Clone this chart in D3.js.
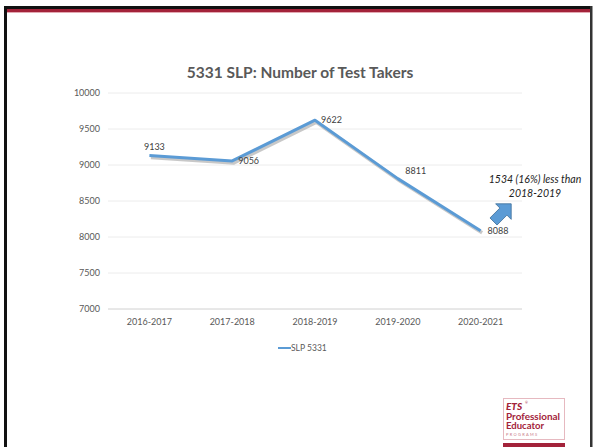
<!DOCTYPE html>
<html><head><meta charset="utf-8">
<script src="https://cdn.jsdelivr.net/npm/d3@7"></script>
<style>html,body{margin:0;padding:0;background:#fff;}svg{display:block;}</style>
</head><body>
<svg id="c" width="594" height="447"></svg>
<script>
const categories = ["2016-2017","2017-2018","2018-2019","2019-2020","2020-2021"];
const values = [9133, 9056, 9622, 8811, 8088];
const yTicks = [7000, 7500, 8000, 8500, 9000, 9500, 10000];
const seriesName = "SLP 5331";
const title = "5331 SLP: Number of Test Takers";
const note = ["1534 (16%) less than", "2018-2019"];
// label placement per point: [dx, dy, anchor]
const labelPos = [[5,-9,"middle"],[6,0,"start"],[6,0,"start"],[18,-8,"middle"],[7,0,"start"]];

const svg = d3.select("#c");
const font = "Lato, 'Open Sans', sans-serif";
const grey = "#595959";

// slide frame
svg.append("rect").attr("x",4).attr("y",6).attr("width",588).attr("height",3).attr("fill","#111");
svg.append("rect").attr("x",4).attr("y",9).attr("width",588).attr("height",3).attr("fill","#a3233a");
svg.append("rect").attr("x",4).attr("y",12).attr("width",588).attr("height",1).attr("fill","#e3a9b2");
svg.append("rect").attr("x",4).attr("y",6).attr("width",3).attr("height",441).attr("fill","#111");
svg.append("rect").attr("x",590).attr("y",6).attr("width",2.5).attr("height",441).attr("fill","#333");

const x = d3.scaleBand().domain(categories).range([108, 522]);
const y = d3.scaleLinear().domain([7000, 10000]).range([309, 93]);

// gridlines
svg.append("g").selectAll("line").data(yTicks).join("line")
  .attr("x1",108).attr("x2",522)
  .attr("y1",d=>y(d)).attr("y2",d=>y(d))
  .attr("stroke",d=>d===7000?"#d0d0d0":"#ececec").attr("stroke-width",1);

// y axis labels
const yAxis = d3.axisLeft(y).tickValues(yTicks).tickSize(0).tickPadding(8).tickFormat(d3.format("d"));
const ga = svg.append("g").attr("transform","translate(108,0)").call(yAxis);
ga.select(".domain").remove();
ga.selectAll("text").attr("font-family",font).attr("font-size",9).attr("fill",grey);

// x axis labels
const xAxis = d3.axisBottom(x).tickSize(0).tickPadding(10);
const gx = svg.append("g").attr("transform","translate(0,309)").call(xAxis);
gx.select(".domain").remove();
gx.selectAll("text").attr("font-family",font).attr("font-size",9).attr("fill",grey);

// title
svg.append("text").attr("x",300).attr("y",78).attr("text-anchor","middle")
  .attr("font-family",font).attr("font-weight","bold").attr("font-size",15.5).attr("fill",grey).text(title);

// line with shadow
const line = d3.line().x((d,i)=>x(categories[i])+x.bandwidth()/2).y(d=>y(d));
svg.append("path").datum(values).attr("d",line).attr("transform","translate(1.5,2)")
  .attr("fill","none").attr("stroke","#9a9a9a").attr("stroke-opacity",0.55).attr("stroke-width",3.5);
svg.append("path").datum(values).attr("d",line)
  .attr("fill","none").attr("stroke","#5b9bd5").attr("stroke-width",3).attr("stroke-linejoin","round");

// data labels
svg.append("g").selectAll("text").data(values).join("text")
  .attr("x",(d,i)=>x(categories[i])+x.bandwidth()/2+labelPos[i][0])
  .attr("y",(d,i)=>y(d)+labelPos[i][1])
  .attr("dy","0.35em")
  .attr("text-anchor",(d,i)=>labelPos[i][2])
  .attr("font-family",font).attr("font-size",9).attr("fill","#404040")
  .text(d=>d);

// legend
svg.append("line").attr("x1",278).attr("x2",291).attr("y1",348).attr("y2",348)
  .attr("stroke","#5b9bd5").attr("stroke-width",2);
svg.append("text").attr("x",291).attr("y",348).attr("dy","0.35em")
  .attr("font-family",font).attr("font-size",8.5).attr("fill",grey).text(seriesName);

// annotation
svg.append("g").selectAll("text").data(note).join("text")
  .attr("x",535).attr("y",(d,i)=>183+i*13.5).attr("text-anchor","middle")
  .attr("font-family",font).attr("font-style","italic").attr("font-size",10.5).attr("fill","#222").text(d=>d);

// block arrow pointing up-right
const arr = svg.append("g").attr("transform","translate(502,213) rotate(-45)");
arr.append("path")
  .attr("d","M-12,-5 L2,-5 L2,-11 L13,0 L2,11 L2,5 L-12,5 Z")
  .attr("fill","#5b9bd5").attr("stroke","#41719c").attr("stroke-width",0.8);

// logo
const lg = svg.append("g");
lg.append("rect").attr("x",503.5).attr("y",398.5).attr("width",61).attr("height",41)
  .attr("fill","#fff").attr("stroke","#e6b9c0").attr("stroke-width",1);
lg.append("rect").attr("x",503).attr("y",443).attr("width",62).attr("height",4).attr("fill","#a3233a");
lg.append("text").attr("x",506).attr("y",410).attr("font-family",font).attr("font-weight","900")
  .attr("font-style","italic").attr("font-size",10).attr("fill","#a3233a").text("ETS");
lg.append("text").attr("x",525).attr("y",404).attr("font-family",font).attr("font-size",3.5).attr("fill","#a3233a").text("®");
lg.append("text").attr("x",506).attr("y",420).attr("font-family",font).attr("font-weight","bold")
  .attr("font-size",8.5).attr("textLength",54).attr("lengthAdjust","spacingAndGlyphs").attr("fill","#a3233a").text("Professional");
lg.append("text").attr("x",506).attr("y",429).attr("font-family",font).attr("font-weight","bold")
  .attr("font-size",8.5).attr("textLength",38).attr("lengthAdjust","spacingAndGlyphs").attr("fill","#a3233a").text("Educator");
lg.append("text").attr("x",506).attr("y",436).attr("font-family",font)
  .attr("font-size",4).attr("letter-spacing",1.3).attr("fill","#c97a87").text("PROGRAMS");
</script>
</body></html>
